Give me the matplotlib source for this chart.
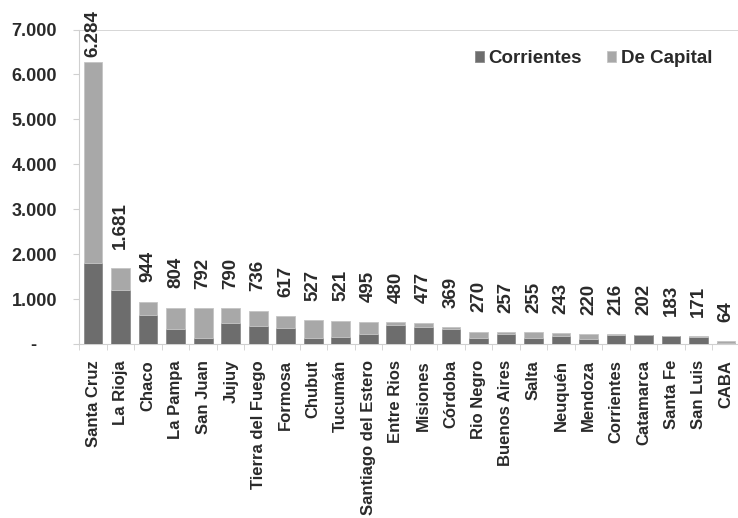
import numpy as np
import matplotlib
matplotlib.use("Agg")
import matplotlib.pyplot as plt
from matplotlib.ticker import FixedLocator, FuncFormatter

# Data
provincias = ["Santa Cruz", "La Rioja", "Chaco", "La Pampa", "San Juan", "Jujuy",
	"Tierra del Fuego", "Formosa", "Chubut", "Tucumán", "Santiago del Estero",
	"Entre Rios", "Misiones", "Córdoba", "Rio Negro", "Buenos Aires", "Salta",
	"Neuquén", "Mendoza", "Corrientes", "Catamarca", "Santa Fe", "San Luis", "CABA"]
total = [6284, 1681, 944, 804, 792, 790, 736, 617, 527, 521, 495, 480, 477, 369,
	270, 257, 255, 243, 220, 216, 202, 183, 171, 64]
corrientes = [1800, 1210, 650, 330, 130, 460, 400, 360, 130, 160, 220, 420, 380, 330,
	130, 230, 130, 180, 100, 200, 190, 170, 160, 25]
de_capital = [t - c for t, c in zip(total, corrientes)]

dark = "#6d6d6d"
light = "#a8a8a8"
grid_c = "#d0d0d0"
txt_c = "#2a2a2a"

plt.rcParams['font.family'] = ['Liberation Sans', 'DejaVu Sans']
plt.rcParams['font.weight'] = 'bold'

fig = plt.figure(figsize=(7.38, 5.18), dpi=100)
ax = fig.add_axes([0.1075, 0.336, 0.895, 0.607])

x = np.arange(len(provincias))
w = 0.68
ax.bar(x, corrientes, width=w, color=dark, edgecolor="#8a8a8a", linewidth=0.6, label="Corrientes", zorder=3)
ax.bar(x, de_capital, width=w, bottom=corrientes, color=light, edgecolor="#c4c4c4", linewidth=0.6, label="De Capital", zorder=3)

labels = []
for xi, t in zip(x, total):
	a = ax.annotate(f"{t:,}".replace(",", "."), (xi, t), xytext=(0, 14), textcoords="offset points",
		rotation=90, ha="center", va="bottom", fontsize=13.5, fontweight="bold",
		color=txt_c, annotation_clip=False)
	labels.append(a)

ax.set_xlim(-0.5, len(provincias) - 0.5)
ax.set_ylim(0, 7000)
ax.set_yticks(np.arange(0, 7001, 1000))
ax.yaxis.set_major_formatter(FuncFormatter(lambda v, p: "-" + "\u00a0" * 4 if v == 0 else f"{int(v):,}".replace(",", ".")))
ax.axhline(7000, color=grid_c, linewidth=1.2, zorder=1)

ax.set_xticks(x)
ax.set_xticklabels(provincias, rotation=90, fontsize=12, fontweight="bold")
ax.xaxis.set_minor_locator(FixedLocator(np.arange(-0.5, len(provincias), 1)))
ax.tick_params(axis="x", which="major", length=0, pad=11.5)
ax.tick_params(axis="x", which="minor", length=4, color=grid_c)
ax.tick_params(axis="y", length=4, color=grid_c, labelsize=13, pad=12)
for lbl in ax.get_yticklabels():
	lbl.set_fontweight("bold")
	lbl.set_color(txt_c)
for lbl in ax.get_xticklabels():
	lbl.set_color(txt_c)

for s in ["top", "right"]:
	ax.spines[s].set_visible(False)
ax.spines["left"].set_color(grid_c)
ax.spines["bottom"].set_color(grid_c)

leg = ax.legend(loc="center right", bbox_to_anchor=(0.965, 0.887), bbox_transform=fig.transFigure,
	ncol=2, frameon=False, borderpad=0, borderaxespad=0,
	fontsize=13.5, handlelength=0.5, handleheight=0.5, handletextpad=0.25, columnspacing=1.3)
for t in leg.get_texts():
	t.set_fontweight("bold")
	t.set_color(txt_c)

# keep value labels inside the figure (pushed down like the original)
fig.canvas.draw()
r = fig.canvas.get_renderer()
H = fig.bbox.height
for a in labels:
	bb = a.get_window_extent(r)
	if bb.y1 > H - 10:
		a.xyann = (0, a.xyann[1] - (bb.y1 - (H - 10)) * 72 / fig.dpi)

fig.savefig("out.png", dpi=100)
